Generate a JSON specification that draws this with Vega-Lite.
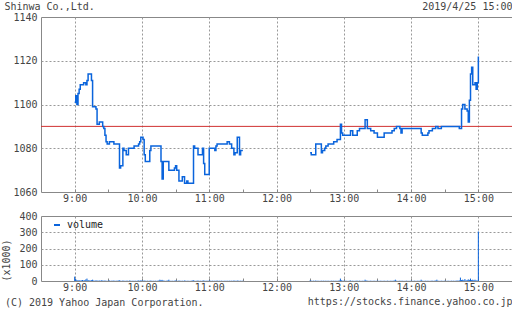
{
  "$schema": "https://vega.github.io/schema/vega-lite/v6.json",
  "background": "white",
  "padding": {"left": 1, "top": 1, "right": 1, "bottom": 1},
  "config": {
    "font": "DejaVu Sans Mono",
    "view": {"stroke": "#888", "strokeWidth": 1},
    "axis": {"labelFont": "DejaVu Sans Mono", "labelFontSize": 10, "labelColor": "#444", "domain": false, "gridColor": "#999", "gridDash": [2, 2], "titleFont": "DejaVu Sans Mono", "titleFontSize": 10, "titleFontWeight": "normal", "titleColor": "#444"},
    "title": {"font": "DejaVu Sans Mono", "fontSize": 10, "fontWeight": "normal", "color": "#444"},
    "legend": {"labelFont": "DejaVu Sans Mono", "labelFontSize": 10, "labelColor": "#222"},
    "concat": {"spacing": 6}
  },
  "title": {"text": "Shinwa Co.,Ltd.", "anchor": "start", "offset": -10, "dx": 3},
  "vconcat": [
    {
      "width": 471,
      "height": 175,
      "title": {"text": "2019/4/25 15:00", "anchor": "end", "offset": 0},
      "layer": [
        {
          "data": {"values": [{"prev": 1090}]},
          "mark": {"type": "rule", "color": "#d03030", "strokeWidth": 1},
          "encoding": {"y": {"field": "prev", "type": "quantitative", "scale": {"domain": [1060, 1140]}}}
        },
        {
          "data": {
            "values": [
              {"t": "2019-04-25T09:00", "p": 1101, "s": "am"}, {"t": "2019-04-25T09:01", "p": 1104, "s": "am"}, {"t": "2019-04-25T09:02", "p": 1100, "s": "am"},
              {"t": "2019-04-25T09:03", "p": 1105, "s": "am"}, {"t": "2019-04-25T09:04", "p": 1107, "s": "am"}, {"t": "2019-04-25T09:05", "p": 1109, "s": "am"},
              {"t": "2019-04-25T09:08", "p": 1110, "s": "am"}, {"t": "2019-04-25T09:10", "p": 1109, "s": "am"}, {"t": "2019-04-25T09:11", "p": 1111, "s": "am"},
              {"t": "2019-04-25T09:12", "p": 1114, "s": "am"}, {"t": "2019-04-25T09:15", "p": 1111, "s": "am"}, {"t": "2019-04-25T09:16", "p": 1099, "s": "am"},
              {"t": "2019-04-25T09:19", "p": 1098, "s": "am"}, {"t": "2019-04-25T09:20", "p": 1091, "s": "am"}, {"t": "2019-04-25T09:22", "p": 1092, "s": "am"},
              {"t": "2019-04-25T09:25", "p": 1090, "s": "am"}, {"t": "2019-04-25T09:26", "p": 1089, "s": "am"}, {"t": "2019-04-25T09:27", "p": 1086, "s": "am"},
              {"t": "2019-04-25T09:28", "p": 1083, "s": "am"}, {"t": "2019-04-25T09:29", "p": 1082, "s": "am"}, {"t": "2019-04-25T09:31", "p": 1083, "s": "am"},
              {"t": "2019-04-25T09:35", "p": 1082, "s": "am"}, {"t": "2019-04-25T09:40", "p": 1071, "s": "am"}, {"t": "2019-04-25T09:41", "p": 1072, "s": "am"},
              {"t": "2019-04-25T09:43", "p": 1080, "s": "am"}, {"t": "2019-04-25T09:44", "p": 1079, "s": "am"}, {"t": "2019-04-25T09:46", "p": 1077, "s": "am"},
              {"t": "2019-04-25T09:48", "p": 1080, "s": "am"}, {"t": "2019-04-25T09:53", "p": 1081, "s": "am"}, {"t": "2019-04-25T09:57", "p": 1082, "s": "am"},
              {"t": "2019-04-25T09:58", "p": 1083, "s": "am"}, {"t": "2019-04-25T09:59", "p": 1085, "s": "am"}, {"t": "2019-04-25T10:01", "p": 1084, "s": "am"},
              {"t": "2019-04-25T10:02", "p": 1077, "s": "am"}, {"t": "2019-04-25T10:03", "p": 1074, "s": "am"}, {"t": "2019-04-25T10:07", "p": 1079, "s": "am"},
              {"t": "2019-04-25T10:08", "p": 1081, "s": "am"}, {"t": "2019-04-25T10:17", "p": 1074, "s": "am"}, {"t": "2019-04-25T10:18", "p": 1066, "s": "am"},
              {"t": "2019-04-25T10:19", "p": 1074, "s": "am"}, {"t": "2019-04-25T10:24", "p": 1070, "s": "am"}, {"t": "2019-04-25T10:29", "p": 1071, "s": "am"},
              {"t": "2019-04-25T10:30", "p": 1072, "s": "am"}, {"t": "2019-04-25T10:31", "p": 1070, "s": "am"}, {"t": "2019-04-25T10:33", "p": 1065, "s": "am"},
              {"t": "2019-04-25T10:36", "p": 1067, "s": "am"}, {"t": "2019-04-25T10:38", "p": 1064, "s": "am"}, {"t": "2019-04-25T10:40", "p": 1065, "s": "am"},
              {"t": "2019-04-25T10:41", "p": 1064, "s": "am"}, {"t": "2019-04-25T10:46", "p": 1081, "s": "am"}, {"t": "2019-04-25T10:47", "p": 1080, "s": "am"},
              {"t": "2019-04-25T10:50", "p": 1077, "s": "am"}, {"t": "2019-04-25T10:54", "p": 1080, "s": "am"}, {"t": "2019-04-25T10:55", "p": 1073, "s": "am"},
              {"t": "2019-04-25T10:56", "p": 1068, "s": "am"}, {"t": "2019-04-25T11:00", "p": 1080, "s": "am"}, {"t": "2019-04-25T11:05", "p": 1079, "s": "am"},
              {"t": "2019-04-25T11:06", "p": 1081, "s": "am"}, {"t": "2019-04-25T11:07", "p": 1082, "s": "am"}, {"t": "2019-04-25T11:16", "p": 1083, "s": "am"},
              {"t": "2019-04-25T11:18", "p": 1082, "s": "am"}, {"t": "2019-04-25T11:20", "p": 1080, "s": "am"}, {"t": "2019-04-25T11:22", "p": 1077, "s": "am"},
              {"t": "2019-04-25T11:23", "p": 1078, "s": "am"}, {"t": "2019-04-25T11:25", "p": 1085, "s": "am"}, {"t": "2019-04-25T11:27", "p": 1077, "s": "am"},
              {"t": "2019-04-25T11:28", "p": 1079, "s": "am"}, {"t": "2019-04-25T11:30", "p": 1079, "s": "am"},
              {"t": "2019-04-25T12:30", "p": 1078, "s": "pm"}, {"t": "2019-04-25T12:31", "p": 1077, "s": "pm"}, {"t": "2019-04-25T12:35", "p": 1082, "s": "pm"},
              {"t": "2019-04-25T12:40", "p": 1078, "s": "pm"}, {"t": "2019-04-25T12:41", "p": 1079, "s": "pm"}, {"t": "2019-04-25T12:43", "p": 1080, "s": "pm"},
              {"t": "2019-04-25T12:44", "p": 1081, "s": "pm"}, {"t": "2019-04-25T12:46", "p": 1082, "s": "pm"}, {"t": "2019-04-25T12:51", "p": 1083, "s": "pm"},
              {"t": "2019-04-25T12:54", "p": 1084, "s": "pm"}, {"t": "2019-04-25T12:57", "p": 1091, "s": "pm"}, {"t": "2019-04-25T12:58", "p": 1087, "s": "pm"},
              {"t": "2019-04-25T12:59", "p": 1086, "s": "pm"}, {"t": "2019-04-25T13:06", "p": 1088, "s": "pm"}, {"t": "2019-04-25T13:08", "p": 1086, "s": "pm"},
              {"t": "2019-04-25T13:12", "p": 1088, "s": "pm"}, {"t": "2019-04-25T13:14", "p": 1089, "s": "pm"}, {"t": "2019-04-25T13:19", "p": 1093, "s": "pm"},
              {"t": "2019-04-25T13:21", "p": 1089, "s": "pm"}, {"t": "2019-04-25T13:24", "p": 1088, "s": "pm"}, {"t": "2019-04-25T13:27", "p": 1087, "s": "pm"},
              {"t": "2019-04-25T13:30", "p": 1085, "s": "pm"}, {"t": "2019-04-25T13:36", "p": 1087, "s": "pm"}, {"t": "2019-04-25T13:43", "p": 1088, "s": "pm"},
              {"t": "2019-04-25T13:45", "p": 1089, "s": "pm"}, {"t": "2019-04-25T13:47", "p": 1090, "s": "pm"}, {"t": "2019-04-25T13:50", "p": 1089, "s": "pm"},
              {"t": "2019-04-25T13:51", "p": 1087, "s": "pm"}, {"t": "2019-04-25T13:52", "p": 1089, "s": "pm"}, {"t": "2019-04-25T14:09", "p": 1087, "s": "pm"},
              {"t": "2019-04-25T14:10", "p": 1086, "s": "pm"}, {"t": "2019-04-25T14:15", "p": 1087, "s": "pm"}, {"t": "2019-04-25T14:16", "p": 1088, "s": "pm"},
              {"t": "2019-04-25T14:19", "p": 1089, "s": "pm"}, {"t": "2019-04-25T14:22", "p": 1090, "s": "pm"}, {"t": "2019-04-25T14:24", "p": 1089, "s": "pm"},
              {"t": "2019-04-25T14:27", "p": 1090, "s": "pm"}, {"t": "2019-04-25T14:43", "p": 1089, "s": "pm"}, {"t": "2019-04-25T14:45", "p": 1098, "s": "pm"},
              {"t": "2019-04-25T14:46", "p": 1100, "s": "pm"}, {"t": "2019-04-25T14:48", "p": 1098, "s": "pm"}, {"t": "2019-04-25T14:50", "p": 1097, "s": "pm"},
              {"t": "2019-04-25T14:51", "p": 1092, "s": "pm"}, {"t": "2019-04-25T14:52", "p": 1102, "s": "pm"}, {"t": "2019-04-25T14:53", "p": 1114, "s": "pm"},
              {"t": "2019-04-25T14:54", "p": 1117, "s": "pm"}, {"t": "2019-04-25T14:55", "p": 1109, "s": "pm"}, {"t": "2019-04-25T14:57", "p": 1110, "s": "pm"},
              {"t": "2019-04-25T14:58", "p": 1107, "s": "pm"}, {"t": "2019-04-25T14:59", "p": 1110, "s": "pm"}, {"t": "2019-04-25T15:00", "p": 1122, "s": "pm"}
            ]
          },
          "mark": {"type": "line", "interpolate": "step-after", "color": "#0a64dc", "strokeWidth": 1.5},
          "encoding": {
            "x": {
              "field": "t", "type": "temporal",
              "scale": {"domain": [{"year": 2019, "month": 4, "date": 25, "hours": 8, "minutes": 30}, {"year": 2019, "month": 4, "date": 25, "hours": 15, "minutes": 30}]},
              "axis": {
                "title": null,
                "values": [
                  {"year": 2019, "month": 4, "date": 25, "hours": 9, "minutes": 0}, {"year": 2019, "month": 4, "date": 25, "hours": 9, "minutes": 30},
                  {"year": 2019, "month": 4, "date": 25, "hours": 10, "minutes": 0}, {"year": 2019, "month": 4, "date": 25, "hours": 10, "minutes": 30},
                  {"year": 2019, "month": 4, "date": 25, "hours": 11, "minutes": 0}, {"year": 2019, "month": 4, "date": 25, "hours": 11, "minutes": 30},
                  {"year": 2019, "month": 4, "date": 25, "hours": 12, "minutes": 0}, {"year": 2019, "month": 4, "date": 25, "hours": 12, "minutes": 30},
                  {"year": 2019, "month": 4, "date": 25, "hours": 13, "minutes": 0}, {"year": 2019, "month": 4, "date": 25, "hours": 13, "minutes": 30},
                  {"year": 2019, "month": 4, "date": 25, "hours": 14, "minutes": 0}, {"year": 2019, "month": 4, "date": 25, "hours": 14, "minutes": 30},
                  {"year": 2019, "month": 4, "date": 25, "hours": 15, "minutes": 0}
                ],
                "labelExpr": "minutes(datum.value) == 0 ? hours(datum.value) + ':00' : ''",
                "gridOpacity": {"condition": {"test": "minutes(datum.value) == 0", "value": 1}, "value": 0},
                "tickSize": -3, "tickColor": "#888", "labelPadding": 4
              }
            },
            "y": {
              "field": "p", "type": "quantitative",
              "scale": {"domain": [1060, 1140]},
              "axis": {
                "title": null, "format": "d", "values": [1060, 1080, 1100, 1120, 1140], "ticks": false, "labelPadding": 4,
                "gridOpacity": {"condition": {"test": "datum.value > 1060 && datum.value < 1140", "value": 1}, "value": 0}
              }
            },
            "detail": {"field": "s"}
          }
        }
      ]
    },
    {
      "width": 471,
      "height": 65,
      "title": {"text": "(C) 2019 Yahoo Japan Corporation.", "orient": "bottom", "anchor": "start", "offset": -8, "dx": 3},
      "data": {
        "values": [
          {"t": "2019-04-25T09:00", "v": 27}, {"t": "2019-04-25T09:01", "v": 12}, {"t": "2019-04-25T09:02", "v": 6}, {"t": "2019-04-25T09:03", "v": 4}, {"t": "2019-04-25T09:04", "v": 5},
          {"t": "2019-04-25T09:05", "v": 3}, {"t": "2019-04-25T09:06", "v": 4}, {"t": "2019-04-25T09:07", "v": 6}, {"t": "2019-04-25T09:08", "v": 3}, {"t": "2019-04-25T09:09", "v": 5},
          {"t": "2019-04-25T09:10", "v": 10}, {"t": "2019-04-25T09:11", "v": 15}, {"t": "2019-04-25T09:12", "v": 6}, {"t": "2019-04-25T09:13", "v": 4}, {"t": "2019-04-25T09:14", "v": 3},
          {"t": "2019-04-25T09:15", "v": 5}, {"t": "2019-04-25T09:16", "v": 8}, {"t": "2019-04-25T09:17", "v": 3}, {"t": "2019-04-25T09:18", "v": 2}, {"t": "2019-04-25T09:19", "v": 4},
          {"t": "2019-04-25T09:20", "v": 3}, {"t": "2019-04-25T09:21", "v": 2}, {"t": "2019-04-25T09:22", "v": 3}, {"t": "2019-04-25T09:23", "v": 2}, {"t": "2019-04-25T09:24", "v": 4},
          {"t": "2019-04-25T09:25", "v": 3}, {"t": "2019-04-25T09:26", "v": 2}, {"t": "2019-04-25T09:27", "v": 3}, {"t": "2019-04-25T09:28", "v": 2}, {"t": "2019-04-25T09:29", "v": 1},
          {"t": "2019-04-25T09:30", "v": 2}, {"t": "2019-04-25T09:31", "v": 3}, {"t": "2019-04-25T09:32", "v": 1}, {"t": "2019-04-25T09:33", "v": 2}, {"t": "2019-04-25T09:34", "v": 2},
          {"t": "2019-04-25T09:35", "v": 3}, {"t": "2019-04-25T09:36", "v": 1}, {"t": "2019-04-25T09:37", "v": 2}, {"t": "2019-04-25T09:38", "v": 2}, {"t": "2019-04-25T09:39", "v": 3},
          {"t": "2019-04-25T09:40", "v": 4}, {"t": "2019-04-25T09:41", "v": 2}, {"t": "2019-04-25T09:42", "v": 1}, {"t": "2019-04-25T09:43", "v": 3}, {"t": "2019-04-25T09:44", "v": 2},
          {"t": "2019-04-25T09:45", "v": 1}, {"t": "2019-04-25T09:46", "v": 2}, {"t": "2019-04-25T09:47", "v": 2}, {"t": "2019-04-25T09:48", "v": 1}, {"t": "2019-04-25T09:49", "v": 3},
          {"t": "2019-04-25T09:50", "v": 2}, {"t": "2019-04-25T09:51", "v": 1}, {"t": "2019-04-25T09:52", "v": 2}, {"t": "2019-04-25T09:53", "v": 1}, {"t": "2019-04-25T09:54", "v": 2},
          {"t": "2019-04-25T09:55", "v": 1}, {"t": "2019-04-25T09:56", "v": 2}, {"t": "2019-04-25T09:57", "v": 3}, {"t": "2019-04-25T09:58", "v": 2}, {"t": "2019-04-25T09:59", "v": 4},
          {"t": "2019-04-25T10:00", "v": 3}, {"t": "2019-04-25T10:01", "v": 2}, {"t": "2019-04-25T10:02", "v": 3}, {"t": "2019-04-25T10:03", "v": 2}, {"t": "2019-04-25T10:04", "v": 1},
          {"t": "2019-04-25T10:05", "v": 2}, {"t": "2019-04-25T10:06", "v": 1}, {"t": "2019-04-25T10:07", "v": 2}, {"t": "2019-04-25T10:08", "v": 3}, {"t": "2019-04-25T10:09", "v": 1},
          {"t": "2019-04-25T10:10", "v": 2}, {"t": "2019-04-25T10:11", "v": 1}, {"t": "2019-04-25T10:12", "v": 2}, {"t": "2019-04-25T10:13", "v": 1}, {"t": "2019-04-25T10:14", "v": 2},
          {"t": "2019-04-25T10:15", "v": 3}, {"t": "2019-04-25T10:16", "v": 8}, {"t": "2019-04-25T10:17", "v": 6}, {"t": "2019-04-25T10:18", "v": 7}, {"t": "2019-04-25T10:19", "v": 3},
          {"t": "2019-04-25T10:20", "v": 2}, {"t": "2019-04-25T10:21", "v": 1}, {"t": "2019-04-25T10:22", "v": 2}, {"t": "2019-04-25T10:23", "v": 3}, {"t": "2019-04-25T10:24", "v": 8},
          {"t": "2019-04-25T10:25", "v": 2}, {"t": "2019-04-25T10:26", "v": 1}, {"t": "2019-04-25T10:27", "v": 2}, {"t": "2019-04-25T10:28", "v": 1}, {"t": "2019-04-25T10:29", "v": 2},
          {"t": "2019-04-25T10:30", "v": 3}, {"t": "2019-04-25T10:31", "v": 2}, {"t": "2019-04-25T10:32", "v": 1}, {"t": "2019-04-25T10:33", "v": 3}, {"t": "2019-04-25T10:34", "v": 2},
          {"t": "2019-04-25T10:35", "v": 1}, {"t": "2019-04-25T10:36", "v": 2}, {"t": "2019-04-25T10:37", "v": 1}, {"t": "2019-04-25T10:38", "v": 3}, {"t": "2019-04-25T10:39", "v": 2},
          {"t": "2019-04-25T10:40", "v": 1}, {"t": "2019-04-25T10:41", "v": 2}, {"t": "2019-04-25T10:42", "v": 1}, {"t": "2019-04-25T10:43", "v": 1}, {"t": "2019-04-25T10:44", "v": 2},
          {"t": "2019-04-25T10:45", "v": 3}, {"t": "2019-04-25T10:46", "v": 4}, {"t": "2019-04-25T10:47", "v": 2}, {"t": "2019-04-25T10:48", "v": 1}, {"t": "2019-04-25T10:49", "v": 2},
          {"t": "2019-04-25T10:50", "v": 3}, {"t": "2019-04-25T10:51", "v": 1}, {"t": "2019-04-25T10:52", "v": 2}, {"t": "2019-04-25T10:53", "v": 1}, {"t": "2019-04-25T10:54", "v": 2},
          {"t": "2019-04-25T10:55", "v": 3}, {"t": "2019-04-25T10:56", "v": 2}, {"t": "2019-04-25T10:57", "v": 1}, {"t": "2019-04-25T10:58", "v": 2}, {"t": "2019-04-25T10:59", "v": 1},
          {"t": "2019-04-25T11:00", "v": 3}, {"t": "2019-04-25T11:01", "v": 2}, {"t": "2019-04-25T11:02", "v": 1}, {"t": "2019-04-25T11:03", "v": 2}, {"t": "2019-04-25T11:04", "v": 1},
          {"t": "2019-04-25T11:05", "v": 2}, {"t": "2019-04-25T11:06", "v": 1}, {"t": "2019-04-25T11:07", "v": 3}, {"t": "2019-04-25T11:08", "v": 1}, {"t": "2019-04-25T11:09", "v": 2},
          {"t": "2019-04-25T11:10", "v": 1}, {"t": "2019-04-25T11:11", "v": 2}, {"t": "2019-04-25T11:12", "v": 1}, {"t": "2019-04-25T11:13", "v": 1}, {"t": "2019-04-25T11:14", "v": 2},
          {"t": "2019-04-25T11:15", "v": 1}, {"t": "2019-04-25T11:16", "v": 2}, {"t": "2019-04-25T11:17", "v": 1}, {"t": "2019-04-25T11:18", "v": 2}, {"t": "2019-04-25T11:19", "v": 1},
          {"t": "2019-04-25T11:20", "v": 2}, {"t": "2019-04-25T11:21", "v": 1}, {"t": "2019-04-25T11:22", "v": 3}, {"t": "2019-04-25T11:23", "v": 2}, {"t": "2019-04-25T11:24", "v": 1},
          {"t": "2019-04-25T11:25", "v": 3}, {"t": "2019-04-25T11:26", "v": 2}, {"t": "2019-04-25T11:27", "v": 1}, {"t": "2019-04-25T11:28", "v": 2}, {"t": "2019-04-25T11:29", "v": 1},
          {"t": "2019-04-25T11:30", "v": 2},
          {"t": "2019-04-25T12:30", "v": 4}, {"t": "2019-04-25T12:31", "v": 2}, {"t": "2019-04-25T12:32", "v": 1}, {"t": "2019-04-25T12:33", "v": 2}, {"t": "2019-04-25T12:34", "v": 1},
          {"t": "2019-04-25T12:35", "v": 3}, {"t": "2019-04-25T12:36", "v": 1}, {"t": "2019-04-25T12:37", "v": 2}, {"t": "2019-04-25T12:38", "v": 1}, {"t": "2019-04-25T12:39", "v": 1},
          {"t": "2019-04-25T12:40", "v": 2}, {"t": "2019-04-25T12:41", "v": 1}, {"t": "2019-04-25T12:42", "v": 2}, {"t": "2019-04-25T12:43", "v": 1}, {"t": "2019-04-25T12:44", "v": 2},
          {"t": "2019-04-25T12:45", "v": 1}, {"t": "2019-04-25T12:46", "v": 2}, {"t": "2019-04-25T12:47", "v": 1}, {"t": "2019-04-25T12:48", "v": 1}, {"t": "2019-04-25T12:49", "v": 2},
          {"t": "2019-04-25T12:50", "v": 1}, {"t": "2019-04-25T12:51", "v": 2}, {"t": "2019-04-25T12:52", "v": 1}, {"t": "2019-04-25T12:53", "v": 2}, {"t": "2019-04-25T12:54", "v": 1},
          {"t": "2019-04-25T12:55", "v": 2}, {"t": "2019-04-25T12:56", "v": 3}, {"t": "2019-04-25T12:57", "v": 15}, {"t": "2019-04-25T12:58", "v": 4}, {"t": "2019-04-25T12:59", "v": 2},
          {"t": "2019-04-25T13:00", "v": 2}, {"t": "2019-04-25T13:01", "v": 1}, {"t": "2019-04-25T13:02", "v": 2}, {"t": "2019-04-25T13:03", "v": 1}, {"t": "2019-04-25T13:04", "v": 1},
          {"t": "2019-04-25T13:05", "v": 2}, {"t": "2019-04-25T13:06", "v": 3}, {"t": "2019-04-25T13:07", "v": 1}, {"t": "2019-04-25T13:08", "v": 2}, {"t": "2019-04-25T13:09", "v": 1},
          {"t": "2019-04-25T13:10", "v": 1}, {"t": "2019-04-25T13:11", "v": 2}, {"t": "2019-04-25T13:12", "v": 2}, {"t": "2019-04-25T13:13", "v": 1}, {"t": "2019-04-25T13:14", "v": 2},
          {"t": "2019-04-25T13:15", "v": 1}, {"t": "2019-04-25T13:16", "v": 1}, {"t": "2019-04-25T13:17", "v": 2}, {"t": "2019-04-25T13:18", "v": 1}, {"t": "2019-04-25T13:19", "v": 8},
          {"t": "2019-04-25T13:20", "v": 3}, {"t": "2019-04-25T13:21", "v": 2}, {"t": "2019-04-25T13:22", "v": 1}, {"t": "2019-04-25T13:23", "v": 1}, {"t": "2019-04-25T13:24", "v": 2},
          {"t": "2019-04-25T13:25", "v": 1}, {"t": "2019-04-25T13:26", "v": 1}, {"t": "2019-04-25T13:27", "v": 2}, {"t": "2019-04-25T13:28", "v": 1}, {"t": "2019-04-25T13:29", "v": 1},
          {"t": "2019-04-25T13:30", "v": 2}, {"t": "2019-04-25T13:31", "v": 1}, {"t": "2019-04-25T13:32", "v": 1}, {"t": "2019-04-25T13:33", "v": 2}, {"t": "2019-04-25T13:34", "v": 1},
          {"t": "2019-04-25T13:35", "v": 1}, {"t": "2019-04-25T13:36", "v": 2}, {"t": "2019-04-25T13:37", "v": 1}, {"t": "2019-04-25T13:38", "v": 1}, {"t": "2019-04-25T13:39", "v": 2},
          {"t": "2019-04-25T13:40", "v": 1}, {"t": "2019-04-25T13:41", "v": 1}, {"t": "2019-04-25T13:42", "v": 2}, {"t": "2019-04-25T13:43", "v": 1}, {"t": "2019-04-25T13:44", "v": 2},
          {"t": "2019-04-25T13:45", "v": 3}, {"t": "2019-04-25T13:46", "v": 8}, {"t": "2019-04-25T13:47", "v": 2}, {"t": "2019-04-25T13:48", "v": 1}, {"t": "2019-04-25T13:49", "v": 1},
          {"t": "2019-04-25T13:50", "v": 2}, {"t": "2019-04-25T13:51", "v": 1}, {"t": "2019-04-25T13:52", "v": 2}, {"t": "2019-04-25T13:53", "v": 1}, {"t": "2019-04-25T13:54", "v": 1},
          {"t": "2019-04-25T13:55", "v": 1}, {"t": "2019-04-25T13:56", "v": 2}, {"t": "2019-04-25T13:57", "v": 1}, {"t": "2019-04-25T13:58", "v": 1}, {"t": "2019-04-25T13:59", "v": 1},
          {"t": "2019-04-25T14:00", "v": 2}, {"t": "2019-04-25T14:01", "v": 1}, {"t": "2019-04-25T14:02", "v": 1}, {"t": "2019-04-25T14:03", "v": 2}, {"t": "2019-04-25T14:04", "v": 1},
          {"t": "2019-04-25T14:05", "v": 1}, {"t": "2019-04-25T14:06", "v": 2}, {"t": "2019-04-25T14:07", "v": 1}, {"t": "2019-04-25T14:08", "v": 2}, {"t": "2019-04-25T14:09", "v": 8},
          {"t": "2019-04-25T14:10", "v": 2}, {"t": "2019-04-25T14:11", "v": 1}, {"t": "2019-04-25T14:12", "v": 1}, {"t": "2019-04-25T14:13", "v": 2}, {"t": "2019-04-25T14:14", "v": 1},
          {"t": "2019-04-25T14:15", "v": 2}, {"t": "2019-04-25T14:16", "v": 1}, {"t": "2019-04-25T14:17", "v": 1}, {"t": "2019-04-25T14:18", "v": 2}, {"t": "2019-04-25T14:19", "v": 2},
          {"t": "2019-04-25T14:20", "v": 1}, {"t": "2019-04-25T14:21", "v": 2}, {"t": "2019-04-25T14:22", "v": 3}, {"t": "2019-04-25T14:23", "v": 8}, {"t": "2019-04-25T14:24", "v": 2},
          {"t": "2019-04-25T14:25", "v": 1}, {"t": "2019-04-25T14:26", "v": 1}, {"t": "2019-04-25T14:27", "v": 2}, {"t": "2019-04-25T14:28", "v": 1}, {"t": "2019-04-25T14:29", "v": 1},
          {"t": "2019-04-25T14:30", "v": 2}, {"t": "2019-04-25T14:31", "v": 1}, {"t": "2019-04-25T14:32", "v": 1}, {"t": "2019-04-25T14:33", "v": 2}, {"t": "2019-04-25T14:34", "v": 1},
          {"t": "2019-04-25T14:35", "v": 1}, {"t": "2019-04-25T14:36", "v": 2}, {"t": "2019-04-25T14:37", "v": 1}, {"t": "2019-04-25T14:38", "v": 2}, {"t": "2019-04-25T14:39", "v": 1},
          {"t": "2019-04-25T14:40", "v": 2}, {"t": "2019-04-25T14:41", "v": 3}, {"t": "2019-04-25T14:42", "v": 2}, {"t": "2019-04-25T14:43", "v": 4}, {"t": "2019-04-25T14:44", "v": 21},
          {"t": "2019-04-25T14:45", "v": 6}, {"t": "2019-04-25T14:46", "v": 8}, {"t": "2019-04-25T14:47", "v": 5}, {"t": "2019-04-25T14:48", "v": 12}, {"t": "2019-04-25T14:49", "v": 4},
          {"t": "2019-04-25T14:50", "v": 6}, {"t": "2019-04-25T14:51", "v": 10}, {"t": "2019-04-25T14:52", "v": 7}, {"t": "2019-04-25T14:53", "v": 15}, {"t": "2019-04-25T14:54", "v": 6},
          {"t": "2019-04-25T14:55", "v": 8}, {"t": "2019-04-25T14:56", "v": 5}, {"t": "2019-04-25T14:57", "v": 8}, {"t": "2019-04-25T14:58", "v": 4}, {"t": "2019-04-25T14:59", "v": 3},
          {"t": "2019-04-25T15:00", "v": 305}
        ]
      },
      "mark": {"type": "rule", "strokeWidth": 1},
      "encoding": {
        "x": {
          "field": "t", "type": "temporal",
          "scale": {"domain": [{"year": 2019, "month": 4, "date": 25, "hours": 8, "minutes": 30}, {"year": 2019, "month": 4, "date": 25, "hours": 15, "minutes": 30}]},
          "axis": {
            "title": "https://stocks.finance.yahoo.co.jp", "titleAnchor": "end", "titlePadding": 4,
            "values": [
              {"year": 2019, "month": 4, "date": 25, "hours": 9, "minutes": 0}, {"year": 2019, "month": 4, "date": 25, "hours": 9, "minutes": 30},
              {"year": 2019, "month": 4, "date": 25, "hours": 10, "minutes": 0}, {"year": 2019, "month": 4, "date": 25, "hours": 10, "minutes": 30},
              {"year": 2019, "month": 4, "date": 25, "hours": 11, "minutes": 0}, {"year": 2019, "month": 4, "date": 25, "hours": 11, "minutes": 30},
              {"year": 2019, "month": 4, "date": 25, "hours": 12, "minutes": 0}, {"year": 2019, "month": 4, "date": 25, "hours": 12, "minutes": 30},
              {"year": 2019, "month": 4, "date": 25, "hours": 13, "minutes": 0}, {"year": 2019, "month": 4, "date": 25, "hours": 13, "minutes": 30},
              {"year": 2019, "month": 4, "date": 25, "hours": 14, "minutes": 0}, {"year": 2019, "month": 4, "date": 25, "hours": 14, "minutes": 30},
              {"year": 2019, "month": 4, "date": 25, "hours": 15, "minutes": 0}
            ],
            "labelExpr": "minutes(datum.value) == 0 ? hours(datum.value) + ':00' : ''",
            "gridOpacity": {"condition": {"test": "minutes(datum.value) == 0", "value": 1}, "value": 0},
            "tickSize": -3, "tickColor": "#888", "labelPadding": 4
          }
        },
        "y": {
          "field": "v", "type": "quantitative",
          "scale": {"domain": [0, 400]},
          "axis": {
            "title": "(x1000)", "titleAnchor": "start", "titlePadding": 7,
            "values": [0, 100, 200, 300, 400], "ticks": false, "labelPadding": 4,
            "gridOpacity": {"condition": {"test": "datum.value > 0 && datum.value < 400", "value": 1}, "value": 0}
          }
        },
        "y2": {"datum": 0},
        "color": {
          "datum": "volume",
          "scale": {"range": ["#0a64dc"]},
          "legend": {"title": null, "orient": "none", "legendX": 11, "legendY": 203, "symbolType": "stroke", "symbolStrokeWidth": 2, "symbolSize": 36, "labelOffset": 5, "padding": 0}
        }
      }
    }
  ]
}
